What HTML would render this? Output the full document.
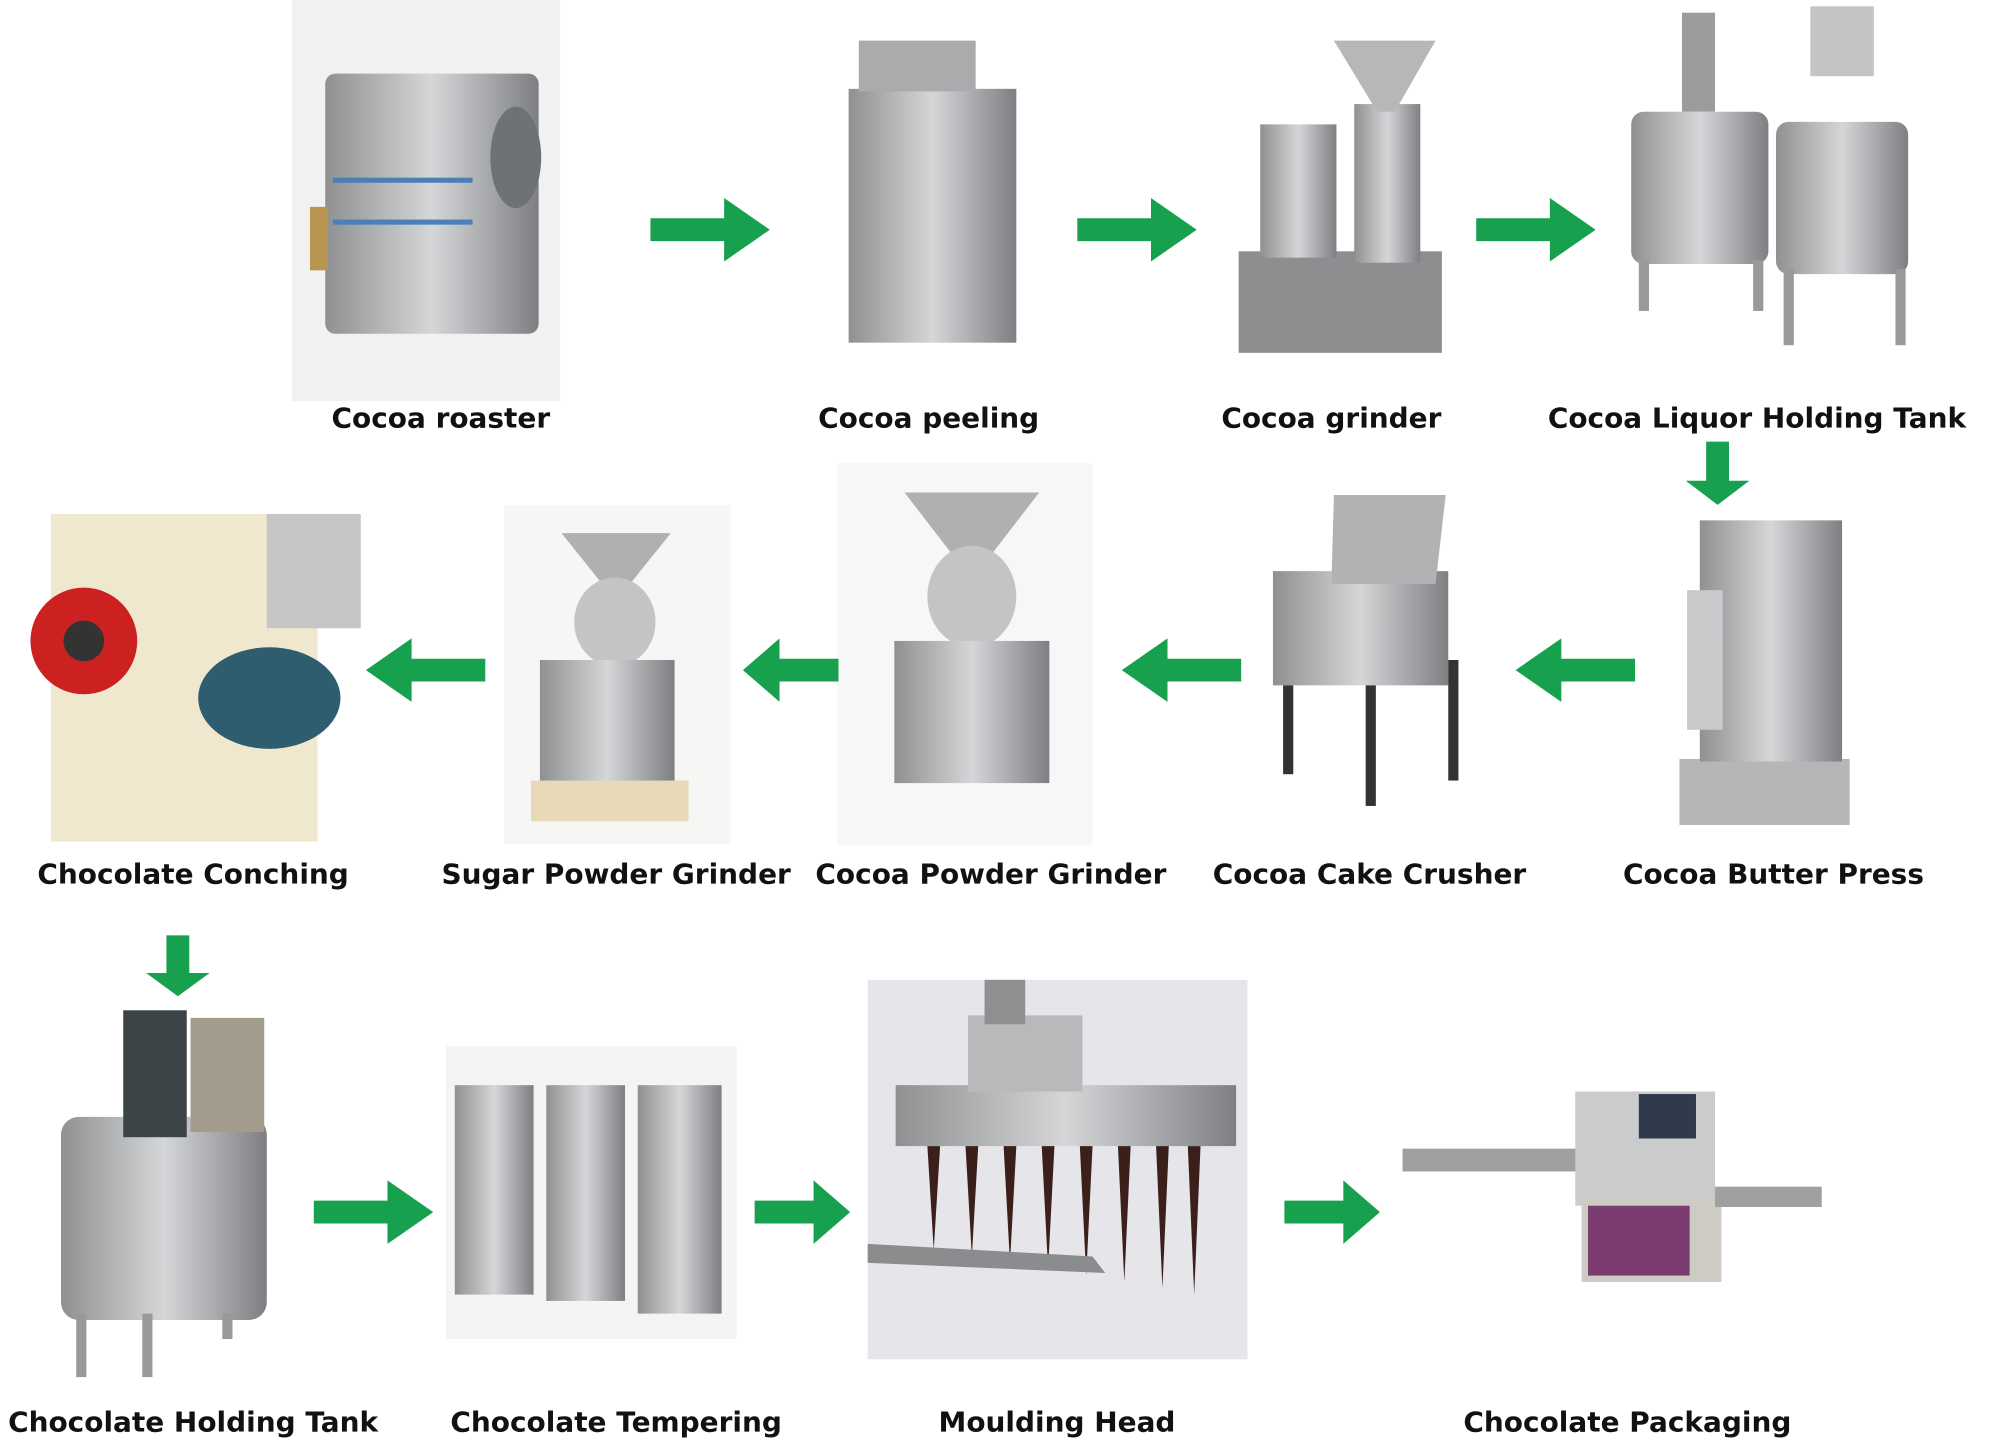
<!DOCTYPE html>
<html><head><meta charset="utf-8"><style>
html,body{margin:0;padding:0;background:#fff;}
#w{position:relative;width:1568px;height:1144px;transform:scale(1.2704,1.2692);transform-origin:0 0;overflow:hidden;}
.l{position:absolute;font-family:"DejaVu Sans","Liberation Sans",sans-serif;font-weight:bold;font-size:22px;color:#111;white-space:nowrap;transform:translateX(-50%);}
svg{position:absolute;left:0;top:0;}
</style></head><body><div id="w">
<svg width="1568" height="1144">
<defs>
<linearGradient id="m" x1="0" x2="1"><stop offset="0" stop-color="#8e9092"/><stop offset=".5" stop-color="#d4d6d8"/><stop offset="1" stop-color="#7d7f82"/></linearGradient>
<g id="ar"><polygon points="0,-9 58,-9 58,-25 94,0 58,25 58,9 0,9" fill="#17a04d"/></g>
</defs>
<rect x="230" y="0" width="211" height="316" fill="#f1f1f1"/>
<rect x="659" y="365" width="201" height="301" fill="#f7f7f7"/>
<rect x="397" y="398" width="178" height="267" fill="#f6f6f4"/>
<rect x="351" y="824" width="229" height="231" fill="#f4f4f4"/>
<rect x="683" y="772" width="299" height="299" fill="#e6e6ea"/>
<rect x="256" y="58" width="168" height="205" rx="8" fill="url(#m)"/>
<rect x="244" y="163" width="14" height="50" fill="#b89550"/>
<ellipse cx="406" cy="124" rx="20" ry="40" fill="#6f7275"/>
<rect x="262" y="140" width="110" height="4" fill="#4a7fb8"/><rect x="262" y="173" width="110" height="4" fill="#4a7fb8"/>
<rect x="668" y="70" width="132" height="200" fill="url(#m)"/>
<rect x="676" y="32" width="92" height="40" fill="#a9abad"/>
<rect x="975" y="198" width="160" height="80" fill="#8c8e90"/>
<rect x="992" y="98" width="60" height="105" fill="url(#m)"/>
<rect x="1066" y="82" width="52" height="125" fill="url(#m)"/>
<polygon points="1050,32 1130,32 1098,88 1084,88" fill="#b5b7b9"/>
<rect x="1284" y="88" width="108" height="120" rx="10" fill="url(#m)"/>
<rect x="1398" y="96" width="104" height="120" rx="10" fill="url(#m)"/>
<rect x="1324" y="10" width="26" height="78" fill="#9a9c9e"/>
<rect x="1425" y="5" width="50" height="55" fill="#c4c5c3"/>
<rect x="1290" y="205" width="8" height="40" fill="#999"/><rect x="1380" y="205" width="8" height="40" fill="#999"/>
<rect x="1404" y="212" width="8" height="60" fill="#999"/><rect x="1492" y="212" width="8" height="60" fill="#999"/>
<rect x="1322" y="598" width="134" height="52" fill="#b5b6b8"/>
<rect x="1338" y="410" width="112" height="190" fill="url(#m)"/>
<rect x="1328" y="465" width="28" height="110" fill="#c8c9cb"/>
<rect x="1002" y="450" width="138" height="90" fill="url(#m)"/>
<polygon points="1050,390 1138,390 1130,460 1048,460" fill="#b0b2b4"/>
<rect x="1010" y="540" width="8" height="70" fill="#333"/><rect x="1075" y="540" width="8" height="95" fill="#333"/><rect x="1140" y="520" width="8" height="95" fill="#333"/>
<polygon points="712,388 818,388 778,440 752,440" fill="#aeb0b2"/>
<ellipse cx="765" cy="470" rx="35" ry="40" fill="#c2c4c6"/>
<rect x="704" y="505" width="122" height="112" fill="url(#m)"/>
<polygon points="442,420 528,420 496,460 474,460" fill="#aeb0b2"/>
<ellipse cx="484" cy="490" rx="32" ry="35" fill="#c2c4c6"/>
<rect x="425" y="520" width="106" height="98" fill="url(#m)"/>
<rect x="418" y="615" width="124" height="32" fill="#e8d9b8"/>
<rect x="40" y="405" width="210" height="258" fill="#efe8cf"/>
<circle cx="66" cy="505" r="42" fill="#cc2121"/><circle cx="66" cy="505" r="16" fill="#333"/>
<rect x="210" y="405" width="74" height="90" fill="#c5c7c6"/>
<ellipse cx="212" cy="550" rx="56" ry="40" fill="#2f5d70"/>
<rect x="48" y="880" width="162" height="160" rx="14" fill="url(#m)"/>
<rect x="97" y="796" width="50" height="100" fill="#3d4448"/>
<rect x="150" y="802" width="58" height="90" fill="#a39b8c"/>
<rect x="60" y="1035" width="8" height="50" fill="#999"/><rect x="112" y="1035" width="8" height="50" fill="#999"/><rect x="175" y="1035" width="8" height="20" fill="#999"/>
<rect x="358" y="855" width="62" height="165" fill="url(#m)"/>
<rect x="430" y="855" width="62" height="170" fill="url(#m)"/>
<rect x="502" y="855" width="66" height="180" fill="url(#m)"/>
<rect x="705" y="855" width="268" height="48" fill="url(#m)"/>
<rect x="762" y="800" width="90" height="60" fill="#b7b9bb"/>
<rect x="775" y="772" width="32" height="35" fill="#8d8f91"/>
<g fill="#3a1f1a"><polygon points="730,903 740,903 735,985"/><polygon points="760,903 770,903 765,990"/><polygon points="790,903 800,903 795,995"/><polygon points="820,903 830,903 825,1000"/><polygon points="850,903 860,903 855,1005"/><polygon points="880,903 890,903 885,1010"/><polygon points="910,903 920,903 915,1015"/><polygon points="935,903 945,903 940,1020"/></g>
<polygon points="683,980 860,990 870,1003 683,995" fill="#8a8c8e"/>
<rect x="1104" y="905" width="150" height="18" fill="#9ea0a2"/>
<rect x="1240" y="860" width="110" height="90" fill="#c9cbcc"/>
<rect x="1245" y="945" width="110" height="65" fill="#cdcbc4"/><rect x="1250" y="950" width="80" height="55" fill="#7a3b6e"/>
<rect x="1350" y="935" width="84" height="16" fill="#9ea0a2"/>
<rect x="1290" y="862" width="45" height="35" fill="#2f3a4a"/>
<use href="#ar" transform="translate(512,181)"/>
<use href="#ar" transform="translate(848,181)"/>
<use href="#ar" transform="translate(1162,181)"/>
<use href="#ar" transform="translate(1352,348) rotate(90) scale(0.53,1)"/>
<use href="#ar" transform="translate(1287,528) rotate(180)"/>
<use href="#ar" transform="translate(977,528) rotate(180)"/>
<use href="#ar" transform="translate(660,528) rotate(180) scale(0.8,1)"/>
<use href="#ar" transform="translate(382,528) rotate(180)"/>
<use href="#ar" transform="translate(140,737) rotate(90) scale(0.51,1)"/>
<use href="#ar" transform="translate(247,955)"/>
<use href="#ar" transform="translate(594,955) scale(0.8,1)"/>
<use href="#ar" transform="translate(1011,955) scale(0.8,1)"/>
</svg>
<div class="l" style="left:347px;top:318px">Cocoa roaster</div>
<div class="l" style="left:731px;top:318px">Cocoa peeling</div>
<div class="l" style="left:1048px;top:318px">Cocoa grinder</div>
<div class="l" style="left:1383px;top:318px">Cocoa Liquor Holding Tank</div>
<div class="l" style="left:152px;top:677px">Chocolate Conching</div>
<div class="l" style="left:485px;top:677px">Sugar Powder Grinder</div>
<div class="l" style="left:780px;top:677px">Cocoa Powder Grinder</div>
<div class="l" style="left:1078px;top:677px">Cocoa Cake Crusher</div>
<div class="l" style="left:1396px;top:677px">Cocoa Butter Press</div>
<div class="l" style="left:152px;top:1109px">Chocolate Holding Tank</div>
<div class="l" style="left:485px;top:1109px">Chocolate Tempering</div>
<div class="l" style="left:832px;top:1109px">Moulding Head</div>
<div class="l" style="left:1281px;top:1109px">Chocolate Packaging</div>
</div></body></html>
